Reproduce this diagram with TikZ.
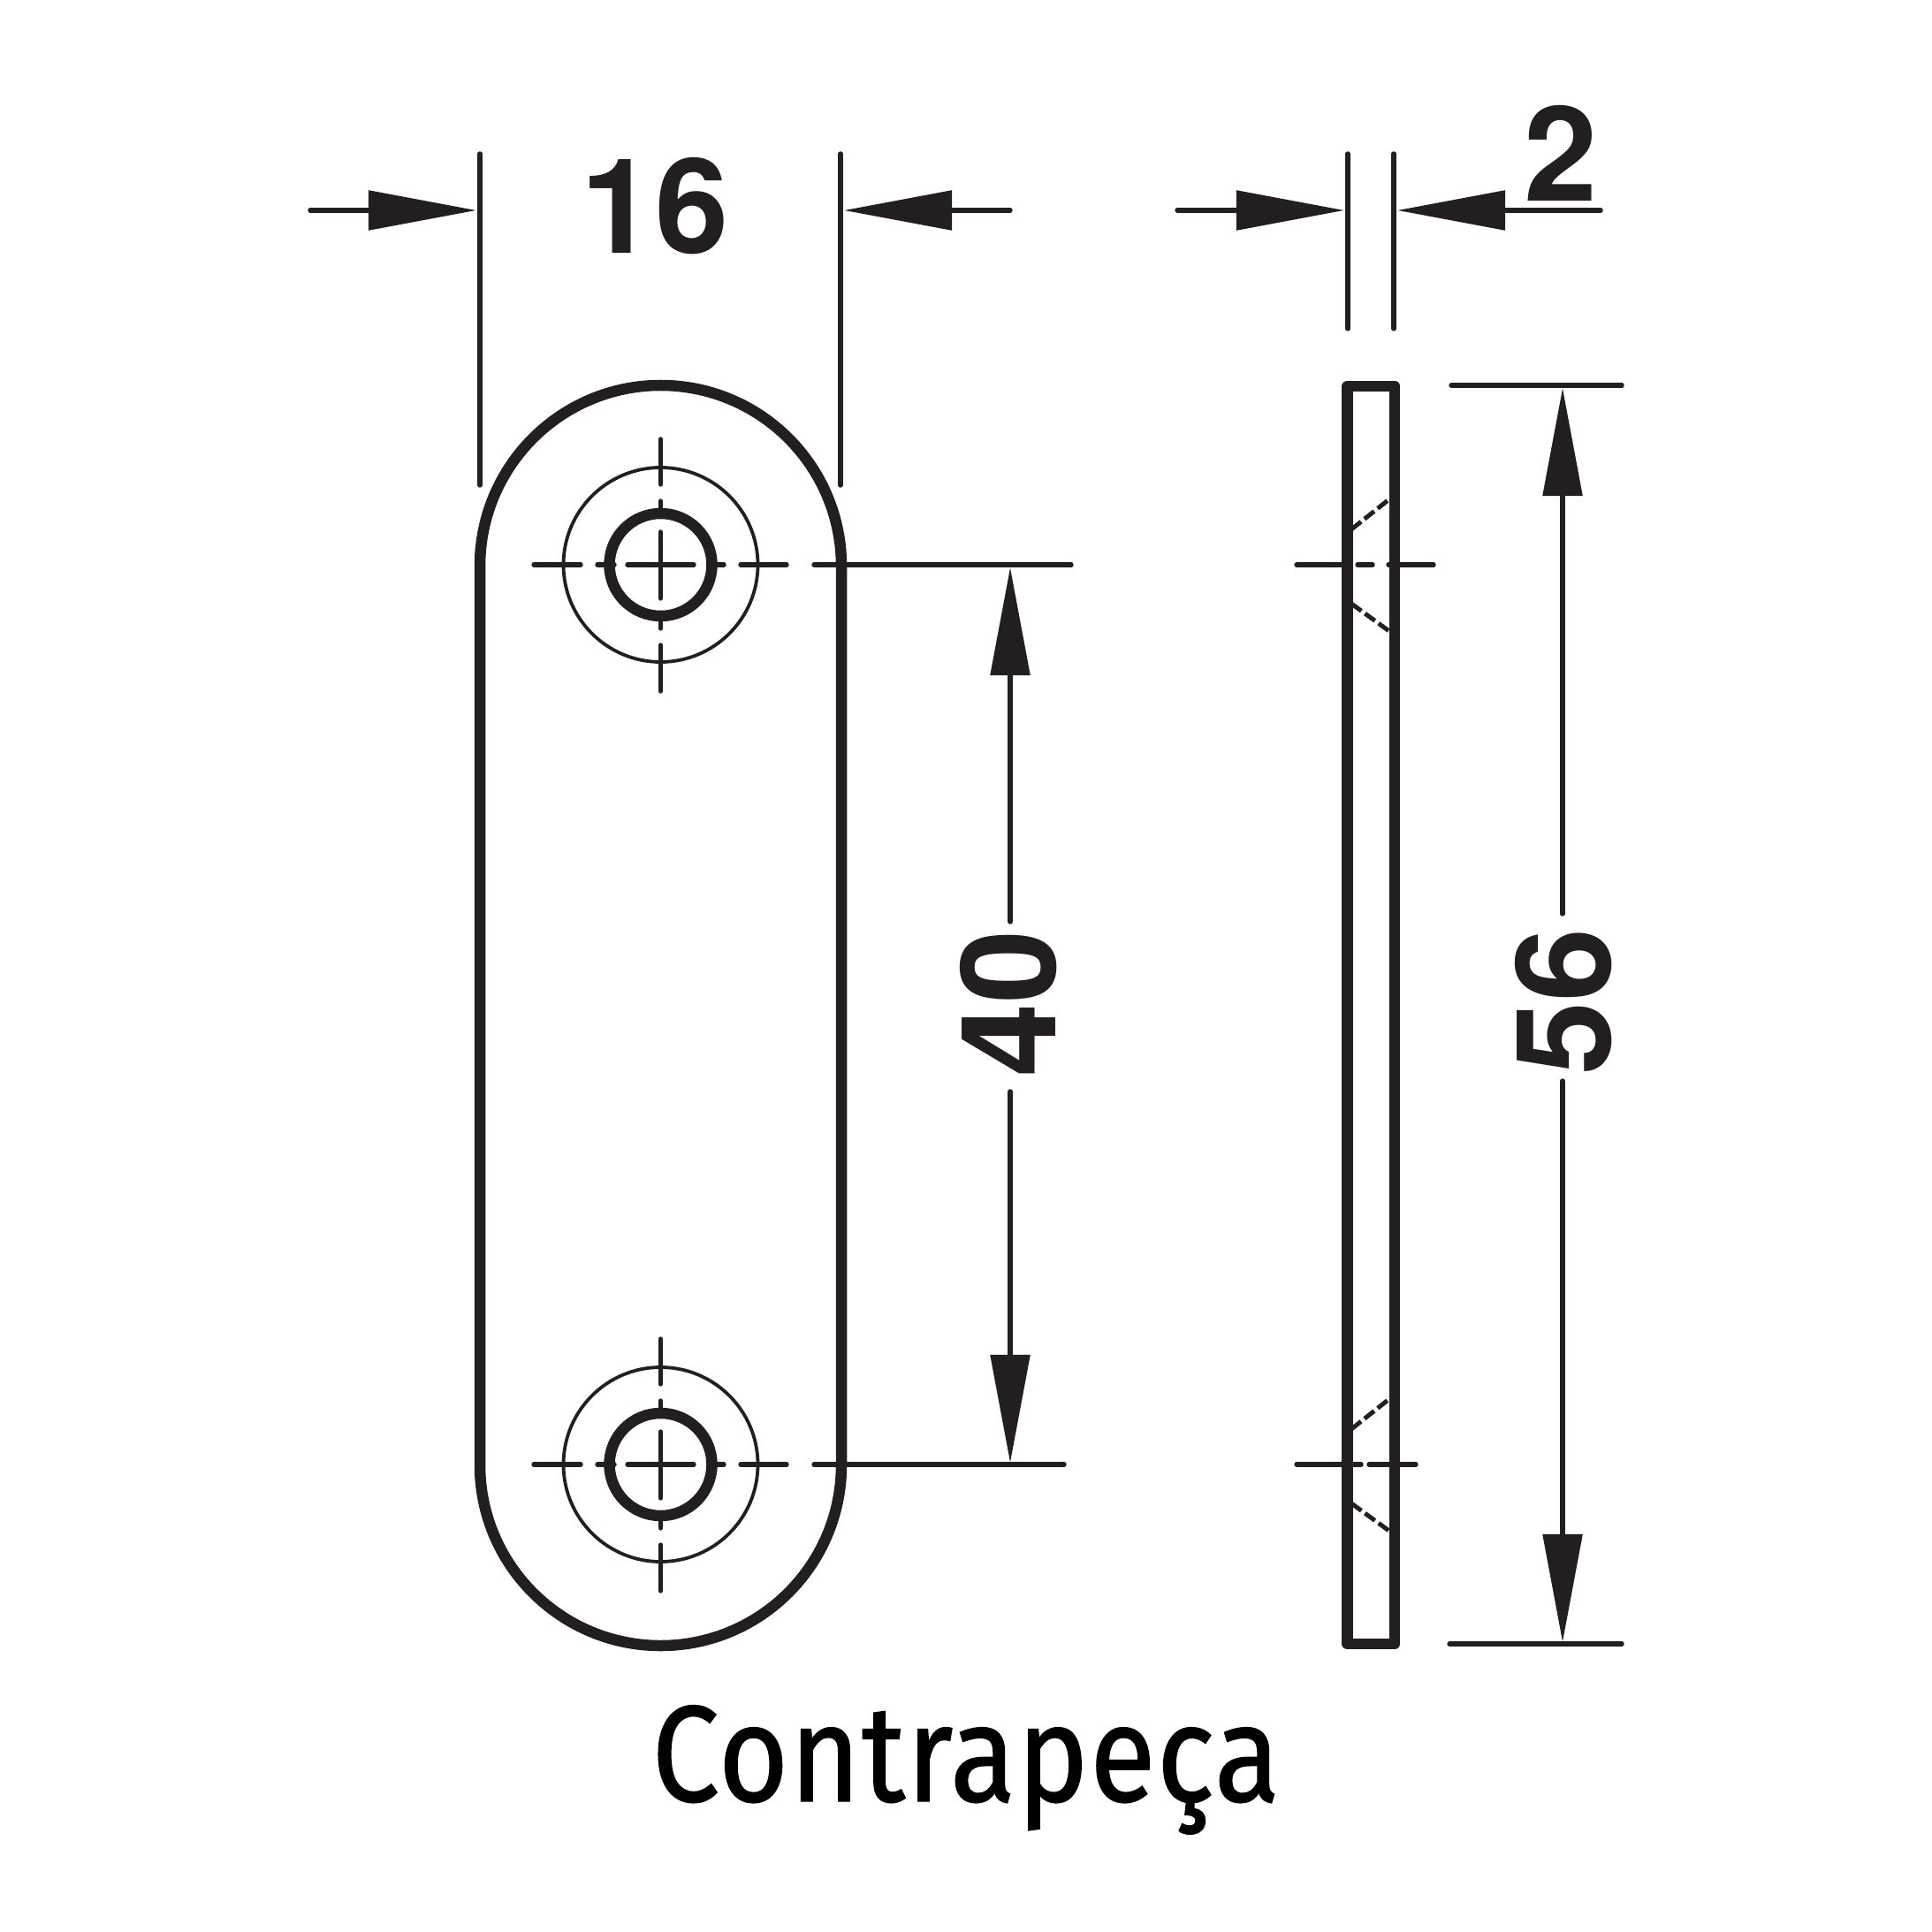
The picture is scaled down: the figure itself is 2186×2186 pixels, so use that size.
\documentclass[tikz,border=0pt]{standalone}
\usepackage{fontspec}
\setmainfont{TeX Gyre Heros}
\newfontfamily\captionfont[FakeStretch=0.88, FakeBold=0.9, LetterSpace=1]{Fira Sans}
\usetikzlibrary{arrows.meta}
\definecolor{inkdark}{HTML}{231F20}
\tikzstyle{thinline} = [draw=inkdark, line width=5.4*0.01cm, line cap=round]
\tikzstyle{heavyline} = [draw=inkdark, line width=12.5*0.01cm, line join=round]
\tikzstyle{ringline} = [draw=inkdark, line width=3.8*0.01cm]
\tikzstyle{hiddenline} = [draw=inkdark, line width=5*0.01cm, dash pattern=on 0.14cm off 0.05cm]
\tikzstyle{dimarrow} = [draw=inkdark, line width=5.4*0.01cm, line cap=round, -{Triangle[length=1.22cm, width=0.44cm, fill=inkdark]}]
\tikzstyle{dimtext} = [text=inkdark, font=\fontsize{42.5}{44}\selectfont\bfseries, inner sep=0pt]

\begin{document}
\begin{tikzpicture}[x=0.01cm, y=-0.01cm]

\useasboundingbox (0,0) rectangle (2186,2186);

% Plate and side view
\draw [heavyline, rounded corners=2.045cm] (543,436) rectangle (952,1862);
\draw [heavyline] (1524.5,437) rectangle (1578,1860);

% Holes
\foreach \cy in {639, 1657} {
  \draw [ringline] (747.5,\cy) circle [radius=110];
  \draw [heavyline] (747.5,\cy) circle [radius=58];
  % centre lines
  \draw [thinline] (710,\cy) -- (785,\cy);
  \draw [thinline] (747.5,\cy-37) -- (747.5,\cy+38);
  \draw [thinline] (604,\cy) -- (657,\cy);
  \draw [thinline] (676,\cy) -- (695,\cy);
  \draw [thinline] (802,\cy) -- (819,\cy);
  \draw [thinline] (838,\cy) -- (890,\cy);
  \draw [thinline] (747.5,\cy-142) -- (747.5,\cy-91);
  \draw [thinline] (747.5,\cy-72) -- (747.5,\cy-58);
  \draw [thinline] (747.5,\cy+58) -- (747.5,\cy+72);
  \draw [thinline] (747.5,\cy+91) -- (747.5,\cy+143);
  % countersink in the side view
  \draw [hiddenline] (1529,\cy-40) -- (1573,\cy-75);
  \draw [hiddenline] (1529,\cy+44) -- (1573,\cy+76);
}

% Centre lines of the side view
\draw [thinline] (1467,639) -- (1520,639);
\draw [thinline] (1536,639) -- (1553,639);
\draw [thinline] (1571,639) -- (1622,639);
\draw [thinline] (1467,1657) -- (1540,1657);
\draw [thinline] (1549,1657) -- (1602,1657);

% Extension lines
\draw [thinline] (543,174) -- (543,549);
\draw [thinline] (951,174) -- (951,549);
\draw [thinline] (1525,174) -- (1525,372);
\draw [thinline] (1577,174) -- (1577,372);
\draw [thinline] (921,639) -- (1212,639);
\draw [thinline] (921,1657) -- (1204,1657);
\draw [thinline] (1642,436) -- (1835,436);
\draw [thinline] (1640,1860) -- (1835,1860);

% Nodes
\node (sixteen) [dimtext] at (741,233) {16};
\node (two) [dimtext] at (1766,173) {2};
\node (forty) [dimtext, rotate=90] at (1141,1135) {40};
\node (fiftysix) [dimtext, rotate=90] at (1769,1133) {56};
\node (caption) [inner sep=0pt, text=black, font=\captionfont\fontsize{44}{44}\selectfont, anchor=base] at (1093,2038) {Contrapeça};

% Arrows
\coordinate (a16l) at (351,238);
\coordinate (a16r) at (1143,238);
\coordinate (a2l) at (1332,238);
\coordinate (a2r) at (1811,238);
\draw [dimarrow] (a16l) -- (539,238);
\draw [dimarrow] (a16r) -- (955,238);
\draw [dimarrow] (a2l) -- (1521,238);
\draw [dimarrow] (a2r) -- (1581,238);
\draw [dimarrow] (1143,1043) -- (1143,642);
\draw [dimarrow] (1143,1235) -- (1143,1655);
\draw [dimarrow] (1768,1034) -- (1768,439);
\draw [dimarrow] (1768,1223) -- (1768,1858);

\end{tikzpicture}
\end{document}
